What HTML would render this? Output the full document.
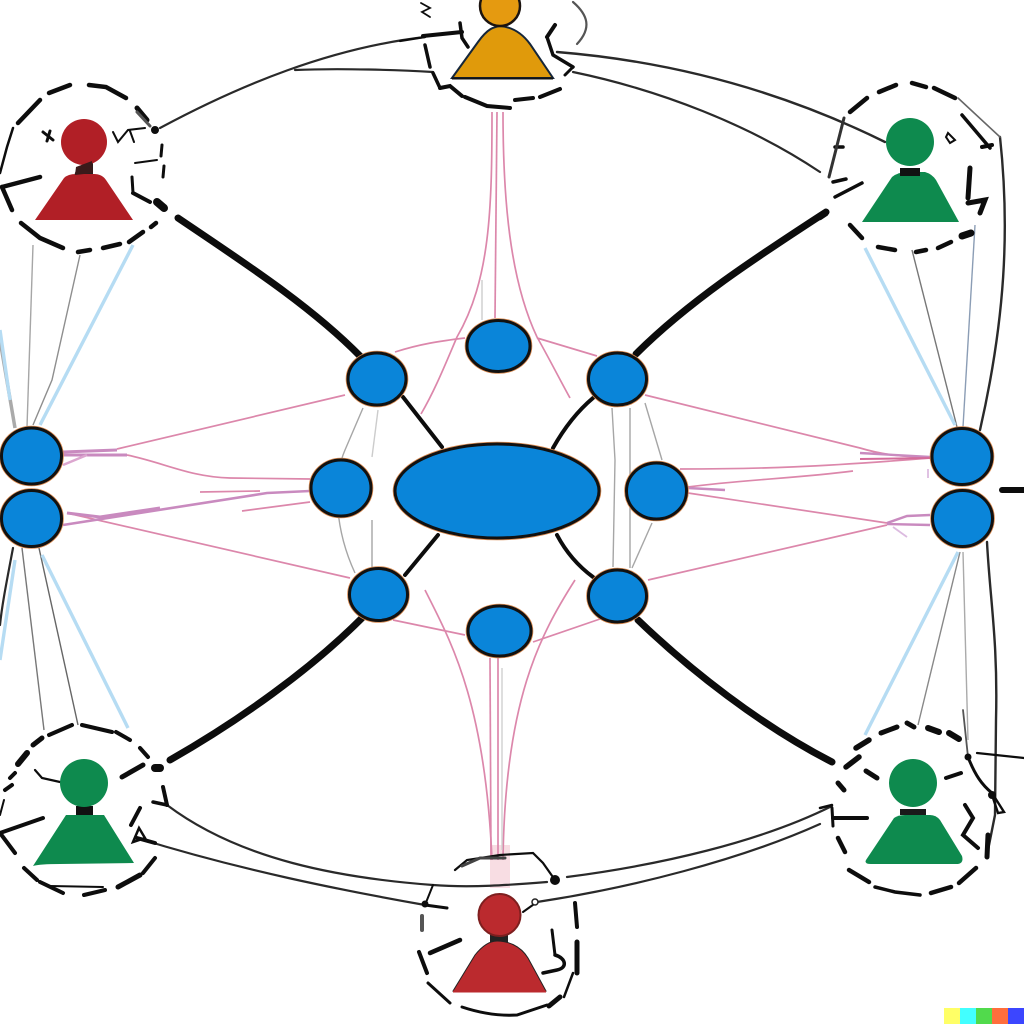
<!DOCTYPE html>
<html>
<head>
<meta charset="utf-8">
<style>
html,body{margin:0;padding:0;background:#fff;width:1024px;height:1024px;overflow:hidden}
svg{display:block}
</style>
</head>
<body>
<svg width="1024" height="1024" viewBox="0 0 1024 1024" xmlns="http://www.w3.org/2000/svg">
<rect width="1024" height="1024" fill="#fff"/>
<defs>
<g id="nodes">
<ellipse cx="497" cy="491" rx="102" ry="47"/>
<ellipse cx="498.5" cy="346" rx="31.5" ry="25.5"/>
<ellipse cx="377" cy="379" rx="29" ry="26"/>
<ellipse cx="617.5" cy="379" rx="29" ry="26"/>
<ellipse cx="341" cy="488" rx="30" ry="28"/>
<ellipse cx="656.5" cy="491" rx="30" ry="28"/>
<ellipse cx="378.5" cy="594.5" rx="29" ry="26"/>
<ellipse cx="617.5" cy="596" rx="29" ry="26"/>
<ellipse cx="499.5" cy="631" rx="31.5" ry="25"/>
<ellipse cx="31.5" cy="456" rx="30" ry="28"/>
<ellipse cx="31.5" cy="518.5" rx="30" ry="28"/>
<ellipse cx="962" cy="456.5" rx="30" ry="28"/>
<ellipse cx="962.5" cy="518.5" rx="30" ry="28"/>
</g>
</defs>

<rect x="490" y="845" width="20" height="43" fill="#f8dde3"/>

<!-- pink lines -->
<g fill="none" stroke="#dc87ab" stroke-width="1.7">
<path d="M117 449 L345 395"/>
<path d="M127 455 C165 463 190 477 230 478 L310 479"/>
<path d="M200 492 L260 491"/>
<path d="M242 511 L310 502"/>
<path d="M67 513 L350 578"/>
<path d="M645 395 L860 448 C880 454 900 457 930 457"/>
<path d="M680 469 C760 469 820 467 930 458"/>
<path d="M688 487 C740 480 800 478 853 471"/>
<path d="M688 493 L887 523"/>
<path d="M648 580 L887 525"/>
<path d="M395 352 C420 344 440 341 465 338"/>
<path d="M537 338 L597 356"/>
<path d="M393 620 L465 635"/>
<path d="M533 642 L600 619"/>
<path d="M492 112 C492 210 490 280 457 337 C445 365 435 390 421 414" />
<path d="M503 112 C503 200 510 280 537 337 C550 360 560 380 570 398"/>
<path d="M497 112 L495 318"/>
<path d="M490 658 L491 860"/>
<path d="M498 658 L498 860"/>
<path d="M425 590 C450 640 485 700 492 860"/>
<path d="M575 580 C540 635 505 700 503 860"/>
</g>
<g fill="none" stroke="#c98abf" stroke-width="3">
<path d="M63 452 L117 450"/>
<path d="M63 455 L127 455"/>
<path d="M63 525 L267 493 L310 491" stroke-width="2.6"/>
<path d="M67 513 L100 517 L160 508"/>
<path d="M63 465 L87 455" stroke-width="2.5" stroke="#dca6cf"/>
<path d="M860 453 L930 457" stroke-width="2.4"/>
<path d="M860 459 L930 458" stroke="#d46a9a" stroke-width="2"/>
<path d="M887 523 L907 516 L930 515" stroke-width="2.4"/>
<path d="M887 524 L930 525" stroke-width="2.4"/>
<path d="M688 488 L725 490" stroke-width="2.4"/>
<path d="M893 527 L907 537 M928 469 L928 478" stroke="#dcbbe0" stroke-width="1.8"/>
</g>

<!-- thin grey lines -->
<g fill="none" stroke="#a6a6a6" stroke-width="1.4">
<path d="M33 245 L27 427"/>
<path d="M80 255 L52 380 L33 425" stroke="#8e8e8e"/>
<path d="M22 548 L44 730" stroke="#777"/>
<path d="M39 548 L78 725" stroke="#666"/>
<path d="M912 250 L957 427" stroke="#777"/>
<path d="M975 225 L963 427" stroke="#8b9db5"/>
<path d="M960 552 L918 725" stroke="#888"/>
<path d="M963 552 L968 740" stroke="#aaa"/>
<path d="M363 408 L345 450 C332 480 335 530 355 573"/>
<path d="M378 410 L372 457" stroke="#ccc"/>
<path d="M372 520 L372 567"/>
<path d="M482 280 L482 320" stroke="#ccc"/>
<path d="M612 408 L615 460 L613 567" />
<path d="M630 408 L630 470 L630 568" />
<path d="M645 403 L662 460"/>
<path d="M652 523 L632 568"/>
<path d="M502 668 L502 850" stroke="#d0d0d0"/>
<path d="M498 330 L498 368" stroke="#1d5f99"/>
</g>
<path d="M0 340 L15 428" fill="none" stroke="#aaa" stroke-width="3.5"/>

<!-- light blue lines -->
<g fill="none" stroke="#b6dcf3" stroke-width="3.4">
<path d="M133 245 L40 425"/>
<path d="M865 248 L955 425"/>
<path d="M42 555 L128 728"/>
<path d="M958 552 L865 735"/>
<path d="M0 330 L10 400"/>
<path d="M0 660 L15 560"/>
</g>

<!-- thick black connectors -->
<g fill="none" stroke="#0c0c0c" stroke-linecap="round">
<path d="M178 218 C240 260 310 305 360 356" stroke-width="7"/>
<path d="M826 212 C760 255 690 300 636 354" stroke-width="7"/>
<path d="M170 760 C240 720 310 670 362 618" stroke-width="7"/>
<path d="M832 762 C760 725 690 670 638 620" stroke-width="7"/>
<path d="M403 397 L442 447" stroke-width="4"/>
<path d="M593 398 C574 414 562 432 553 448" stroke-width="4"/>
<path d="M405 575 L438 535" stroke-width="4"/>
<path d="M593 577 C578 566 566 552 557 535" stroke-width="4"/>
<path d="M1002 490 L1024 490" stroke-width="6"/>
</g>

<!-- outer curves -->
<g fill="none" stroke="#2a2a2a" stroke-width="2.2" stroke-linecap="round">
<path d="M160 128 C240 85 330 48 425 37"/>
<path d="M295 70 C340 68 400 70 433 72"/>
<path d="M557 52 C680 62 790 95 885 142" stroke-width="2.4"/>
<path d="M573 72 C660 90 750 125 820 172"/>
<path d="M167 805 C240 860 340 878 433 885 C470 888 510 885 547 882"/>
<path d="M137 838 C240 870 340 890 425 905 L447 908"/>
<path d="M567 877 C660 865 760 842 832 806"/>
<path d="M537 902 C630 888 740 860 820 824"/>
<path d="M1000 137 C1010 230 1005 320 980 430" stroke-width="2.4"/>
<path d="M987 542 C990 600 998 640 996 720 L995 815 L988 850" stroke-width="2.4"/>
<path d="M13 548 C6 585 2 605 0 625"/>
</g>

<!-- hand drawn dashed rings and marks -->
<g fill="none" stroke="#0d0d0d" stroke-linecap="round">
<!-- top -->
<g stroke-width="4">
<path d="M423 36 L462 32"/>
<path d="M460 23 L462 38 L468 47" stroke-width="3.5"/>
<path d="M425 45 L430 67" stroke-width="3.5"/>
<path d="M433 73 L440 88" stroke-width="3.5"/>
<path d="M440 88 L450 86 L462 96"/>
<path d="M465 97 L487 106 L510 108"/>
<path d="M515 100 L533 98"/>
<path d="M540 97 L560 89"/>
<path d="M547 37 L555 25"/>
<path d="M547 37 L553 55 L573 67" stroke-width="3.5"/>
<path d="M573 67 L565 75" stroke-width="3"/>
</g>
<path d="M400 41 L425 37" stroke-width="2.2"/>
<path d="M573 2 C588 15 592 28 577 44" stroke-width="2.2" stroke="#555"/>
<path d="M421 3 L430 8 L422 12 L430 17" stroke-width="1.8"/>

<!-- top left -->
<g stroke-width="4.5">
<path d="M49 93 L70 85"/>
<path d="M89 85 L106 87 L126 98"/>
<path d="M18 123 L40 100"/>
<path d="M137 108 L147 120" stroke-width="5"/>
<path d="M2 187 L40 177"/>
<path d="M2 187 L12 210"/>
<path d="M21 223 L40 238 L63 248"/>
<path d="M78 252 L90 250"/>
<path d="M103 248 L120 244"/>
<path d="M129 242 L143 232"/>
<path d="M151 227 L156 223"/>
<path d="M157 202 L164 208" stroke-width="8"/>
<path d="M133 193 L150 202" stroke-width="4"/>
<path d="M132 177 L133 193" stroke-width="3"/>
</g>
<path d="M135 163 L157 160" stroke-width="2"/>
<path d="M0 173 L7 147 L13 128" stroke-width="2.5"/>
<path d="M43 132 L53 140 M50 131 L47 141" stroke-width="3"/>
<path d="M113 132 L118 142 L128 130 L145 128 M130 131 L134 142" stroke-width="2"/>
<path d="M162 145 L161 156 M164 166 L163 177" stroke-width="3"/>
<circle cx="155" cy="130" r="4" fill="#0d0d0d" stroke="none"/>
<path d="M137 112 L150 126" stroke="#555" stroke-width="3"/>

<!-- top right -->
<g stroke-width="4.5">
<path d="M879 92 L896 85"/>
<path d="M912 83 L926 87"/>
<path d="M934 88 L955 98"/>
<path d="M850 112 L867 98"/>
<path d="M850 225 L862 238"/>
<path d="M878 247 L895 250"/>
<path d="M916 252 L926 250"/>
<path d="M938 248 L951 242"/>
<path d="M962 236 L971 233" stroke-width="7"/>
<path d="M970 168 L968 198" stroke-width="5"/>
<path d="M968 203 L985 200 L980 213" stroke-width="5"/>
<path d="M820 218 L826 214"/>
<path d="M833 182 L846 179" stroke-width="3.5"/>
<path d="M835 197 L862 183" stroke-width="3.5"/>
<path d="M835 147 L843 147" stroke-width="3.5"/>
</g>
<path d="M844 118 L829 177" stroke-width="3" stroke="#333"/>
<path d="M962 115 L990 148" stroke-width="3.5"/>
<path d="M958 98 L1000 137" stroke-width="1.6" stroke="#666"/>
<path d="M948 133 L955 140 L950 143 L946 137 Z" stroke-width="2"/>
<path d="M982 147 L992 145" stroke-width="4"/>

<!-- bottom left -->
<g stroke-width="4">
<path d="M82 725 L112 732"/>
<path d="M116 732 L130 740"/>
<path d="M49 735 L72 725"/>
<path d="M33 745 L42 738" stroke-width="5"/>
<path d="M18 764 L27 753" stroke-width="6"/>
<path d="M10 778 L15 773"/>
<path d="M5 790 L12 785"/>
<path d="M0 833 L43 818"/>
<path d="M0 833 L15 853"/>
<path d="M24 868 L37 880"/>
<path d="M40 882 L63 893"/>
<path d="M50 886 L103 887" stroke-width="2"/>
<path d="M84 895 L105 890"/>
<path d="M118 887 L140 875" stroke-width="5"/>
<path d="M143 873 L155 858"/>
<path d="M140 748 L148 757"/>
<path d="M122 777 L143 765" stroke-width="5"/>
<path d="M155 768 L160 768" stroke-width="8"/>
<path d="M163 787 L167 805"/>
<path d="M153 802 L167 805" stroke-width="3.5"/>
<path d="M131 825 L140 808"/>
<path d="M137 838 L155 843" stroke-width="4"/>
<path d="M133 842 L139 828 L145 838 Z" stroke-width="2.5"/>
<path d="M35 770 L42 778 L60 782" stroke-width="2.2"/>
<path d="M0 815 L4 800" stroke-width="2"/>
</g>

<!-- bottom right -->
<g stroke-width="4.5">
<path d="M881 733 L897 727" stroke-width="5"/>
<path d="M907 723 L914 727" stroke-width="5"/>
<path d="M928 728 L939 732" stroke-width="6"/>
<path d="M949 733 L959 739" stroke-width="6"/>
<path d="M856 748 L869 740" stroke-width="5.5"/>
<path d="M846 767 L859 757" stroke-width="5.5"/>
<path d="M866 771 L877 778" stroke-width="5"/>
<path d="M946 778 L961 773" stroke-width="4"/>
<path d="M838 783 L844 790" stroke-width="5"/>
<path d="M833 818 L867 818" stroke-width="4"/>
<path d="M832 808 L833 826" stroke-width="3"/>
<path d="M838 838 L845 852"/>
<path d="M849 870 L869 882"/>
<path d="M875 887 L895 892 L920 895" stroke-width="3.5"/>
<path d="M931 893 L951 887"/>
<path d="M959 883 L976 868"/>
<path d="M965 805 L973 818 L963 835 L978 848" stroke-width="4"/>
<path d="M968 757 C975 775 982 785 992 793" stroke-width="3"/>
<path d="M992 793 L1004 812 L998 813 L992 795" stroke-width="2.4"/>
<path d="M977 753 L1024 758" stroke-width="2.2"/>
<path d="M988 835 L987 857" stroke-width="5"/>
<path d="M820 808 L832 805" stroke-width="2.5"/>
</g>
<path d="M963 710 L968 757" stroke-width="1.8" stroke="#555"/>
<circle cx="968" cy="757" r="3.5" fill="#0d0d0d" stroke="none"/>
<circle cx="992" cy="795" r="4" fill="#0d0d0d" stroke="none"/>

<!-- bottom -->
<g stroke-width="3">
<path d="M455 870 L467 860 L500 855 L533 853 L543 863 L555 880" stroke-width="2.2"/>
<path d="M462 866 L480 858 L505 858" stroke-width="3" stroke="#444"/>
<path d="M523 912 L537 902" stroke-width="2"/>
<path d="M422 916 L422 930" stroke-width="4" stroke="#555"/>
<path d="M430 953 L460 940" stroke-width="4.5"/>
<path d="M419 952 L427 973" stroke-width="4"/>
<path d="M428 983 L450 1003" stroke-width="3"/>
<path d="M462 1007 C480 1013 500 1016 517 1015 L547 1005" stroke-width="3"/>
<path d="M549 1006 L560 997" stroke-width="5"/>
<path d="M575 903 L577 927" stroke-width="4"/>
<path d="M577 942 L577 973" stroke-width="5"/>
<path d="M573 973 L564 997" stroke-width="2.5"/>
<path d="M552 930 L555 955" stroke-width="3"/>
<path d="M555 955 C566 958 568 968 557 970 L543 973" stroke-width="3.5"/>
<path d="M433 885 L425 905" stroke-width="2"/>
<path d="M425 905 L447 908" stroke-width="3"/>
</g>
<circle cx="555" cy="880" r="5" fill="#0d0d0d" stroke="none"/>
<circle cx="425" cy="904" r="3.5" fill="#0d0d0d" stroke="none"/>
<circle cx="535" cy="902" r="3" fill="#fff" stroke="#222" stroke-width="1.5"/>
</g>

<!-- people -->
<!-- top -->
<path d="M452 78 L478 42 C488 28 494 27 500 26 C512 27 522 33 530 44 L553 78 Z" fill="#e09a0b" stroke="#15263a" stroke-width="2"/>
<path d="M452 78.5 L553 78.5" stroke="#111" stroke-width="2"/>
<circle cx="500" cy="6" r="20" fill="#e59a10" stroke="#1c1410" stroke-width="2.5"/>

<!-- top left -->
<path d="M76 170 L93 163 L93 176 L74 176 Z" fill="#222"/>
<path d="M35 220 L64 178 Q68 174 76 174 L94 174 Q102 174 106 180 L133 220 Z" fill="#b11f26"/>
<circle cx="84" cy="142" r="23" fill="#b11f26"/>
<path d="M76 167 L92 161 L93 173 L75 175 Z" fill="#3a1a1a"/>

<!-- top right -->
<rect x="900" y="168" width="20" height="8" fill="#111"/>
<path d="M862 222 L892 177 Q898 172 908 172 L925 172 Q932 174 936 180 L959 222 Z" fill="#0e8a4e"/>
<circle cx="910" cy="142" r="24" fill="#0e8a4e"/>
<rect x="900" y="172" width="20" height="4" fill="#111"/>

<!-- bottom left -->
<rect x="76" y="806" width="17" height="10" fill="#111"/>
<path d="M33 866 L66 815 L104 815 L134 863 L60 864 Q40 864 33 866 Z" fill="#0e8a4e"/>
<circle cx="84" cy="783" r="24" fill="#0e8a4e"/>

<!-- bottom right -->
<rect x="900" y="809" width="26" height="6" fill="#1a1a1a"/>
<path d="M866 860 L894 818 Q898 815 905 815 L930 815 Q936 815 940 820 L962 856 Q964 863 958 864 L871 864 Q864 864 866 860 Z" fill="#0e8a4e"/>
<circle cx="913" cy="783" r="24" fill="#0e8a4e"/>

<!-- bottom -->
<rect x="490" y="934" width="18" height="8" fill="#222"/>
<path d="M453 991 L475 955 C483 945 490 941 497 941 C507 941 520 945 528 958 L546 991 Z" fill="#bb2a2e" stroke="#222" stroke-width="1"/>
<path d="M453 991.5 L546 991.5" stroke="#bb2a2e" stroke-width="2"/>
<circle cx="499.5" cy="915" r="21" fill="#bb2a2e" stroke="#7e1f1f" stroke-width="2"/>

<!-- blue nodes -->
<use href="#nodes" fill="none" stroke="#d98a50" stroke-width="4.6"/>
<use href="#nodes" fill="#0a85d9" stroke="#111" stroke-width="3"/>

<!-- colour strip -->
<rect x="944" y="1008" width="16" height="16" fill="#ffff66"/>
<rect x="960" y="1008" width="16" height="16" fill="#42ffff"/>
<rect x="976" y="1008" width="16" height="16" fill="#51da4c"/>
<rect x="992" y="1008" width="16" height="16" fill="#ff6e3c"/>
<rect x="1008" y="1008" width="16" height="16" fill="#3c46ff"/>
</svg>
</body>
</html>
